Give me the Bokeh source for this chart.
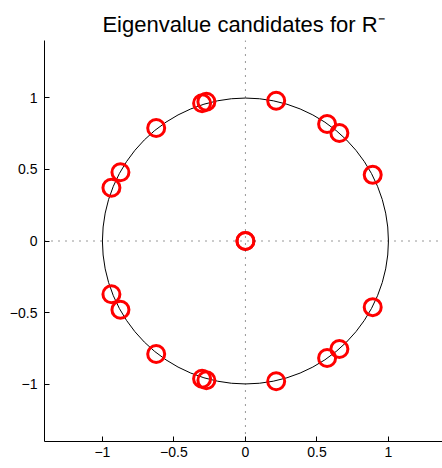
from bokeh.plotting import figure
from bokeh.models import Range1d, FixedTicker, Span
from bokeh.embed import file_html
from bokeh.resources import INLINE

# Data
eig_re = [0.0, 0.0, 0.215, 0.215, -0.273, -0.273, -0.303, -0.303, -0.624, -0.624,
          -0.874, -0.874, -0.937, -0.937, 0.571, 0.571, 0.657, 0.657, 0.890, 0.890]
eig_im = [0.0, 0.0, 0.979, -0.979, 0.972, -0.972, 0.962, -0.962, 0.789, -0.789,
          0.480, -0.480, 0.372, -0.372, 0.817, -0.817, 0.754, -0.754, 0.462, -0.462]
tick_vals = [-1, -0.5, 0, 0.5, 1]
tick_labels = ["\u22121", "\u22120.5", "0", "0.5", "1"]
title_text = "Eigenvalue candidates for R\u207b"

p = figure(width=442, height=468, output_backend="svg", toolbar_location=None,
           x_range=Range1d(-1.405, 1.378), y_range=Range1d(-1.4, 1.4),
           min_border_left=44, min_border_right=0, min_border_top=40, min_border_bottom=27,
           title=title_text)
p.title.align = "center"
p.title.text_font = "Liberation Sans"
p.title.text_font_size = "22px"
p.title.text_font_style = "normal"
p.title.text_color = "black"
p.title.standoff = 8
p.outline_line_color = None
p.grid.visible = False
p.background_fill_color = "white"
p.border_fill_color = "white"

for ax in (p.xaxis[0], p.yaxis[0]):
    ax.ticker = FixedTicker(ticks=tick_vals)
    ax.major_label_overrides = {v: l for v, l in zip(tick_vals, tick_labels)}
    ax.major_label_text_font = "Liberation Sans"
    ax.major_label_text_font_size = "14px"
    ax.major_label_text_color = "black"
    ax.major_tick_in = 5
    ax.major_tick_out = 0
    ax.minor_tick_in = 0
    ax.minor_tick_out = 0
    ax.axis_line_color = "black"
    ax.major_tick_line_color = "black"
p.xaxis.major_label_standoff = 5
p.yaxis.major_label_standoff = 7

p.add_layout(Span(location=0, dimension="width", line_color="#303030",
                  line_width=1, line_dash="1 6"))
p.add_layout(Span(location=0, dimension="height", line_color="#303030",
                  line_width=1, line_dash="1 6"))

p.circle(x=[0], y=[0], radius=1, fill_color=None, line_color="black", line_width=1)

p.scatter(eig_re, eig_im, marker="circle", size=17, fill_color=None,
          line_color="#ff0000", line_width=3)

open("out.html", "w").write(file_html(p, INLINE))
